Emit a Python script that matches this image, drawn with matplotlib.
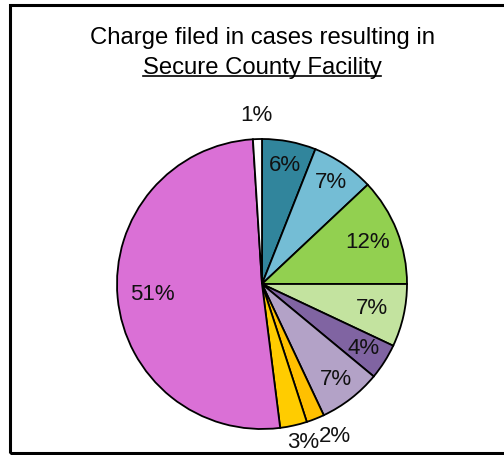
import numpy as np
import matplotlib
matplotlib.use("Agg")
import matplotlib.pyplot as plt
from matplotlib.patches import Rectangle

plt.rcParams['font.family'] = ['Liberation Sans', 'DejaVu Sans']

# share of each charge type, clockwise from 12 o'clock
shares = [6, 7, 12, 7, 4, 7, 2, 3, 51, 1]
labels = ["6%", "7%", "12%", "7%", "4%", "7%", "2%", "3%", "51%", "1%"]
colors = ["#31859C", "#74BDD5", "#92D050", "#C3E39F", "#8064A2",
          "#B3A2C7", "#FFC000", "#FFCC00", "#DA70D6", "#FFFFFF"]
label_r = [0.83, 0.85, 0.78, 0.78, 0.83, 0.83, 1.17, 1.13, 0.76, 1.16]
label_da = [0, 0, 0, 0, 0, 0, 4, 2, 0, 0]   # small angular nudges for outside labels

W, H = 504, 455
fig = plt.figure(figsize=(W / 100, H / 100), dpi=100)

# outer frame
fig.patches.append(Rectangle((10 / W, 2 / H), 600 / W, 448 / H, transform=fig.transFigure,
                             fill=False, edgecolor="black", linewidth=2.2))

cx, cy, R = 262, 284, 145
ax = fig.add_axes([(cx - R) / W, (H - cy - R) / H, 2 * R / W, 2 * R / H])
wedges, _ = ax.pie(shares, colors=colors, startangle=90, counterclock=False,
                   wedgeprops=dict(edgecolor="black", linewidth=1.3))
ax.set_xlim(-1, 1)
ax.set_ylim(-1, 1)
ax.set_aspect("equal")
ax.axis("off")

for w, lab, r, da in zip(wedges, labels, label_r, label_da):
    ang = np.deg2rad((w.theta1 + w.theta2) / 2 + da)
    ax.text(r * np.cos(ang), r * np.sin(ang), lab, ha="center", va="center",
            fontsize=16, color="#111111", clip_on=False)

fig.text(cx / W, 1 - 38 / H, "Charge filed in cases resulting in",
         ha="center", va="center", fontsize=17.2)
sub = fig.text(cx / W, 1 - 68 / H, "Secure County Facility",
               ha="center", va="center", fontsize=17.2)

# underline the second title line
fig.canvas.draw()
bb = sub.get_window_extent()
uy = bb.y0 + 3
fig.add_artist(plt.Line2D([bb.x0 / W, bb.x1 / W], [uy / H, uy / H],
                          transform=fig.transFigure, color="black", linewidth=1.2))

fig.savefig("out.png", dpi=100)
